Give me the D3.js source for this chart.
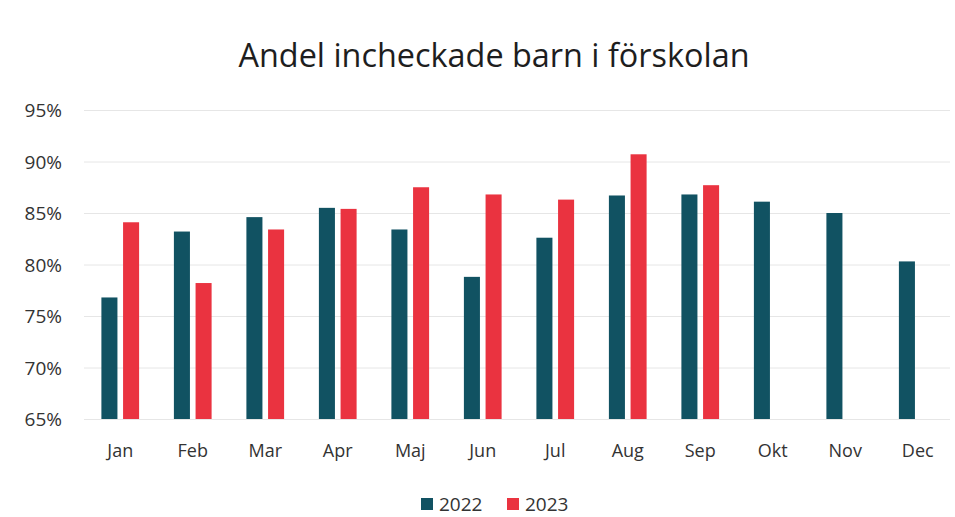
<!DOCTYPE html>
<html>
<head>
<meta charset="utf-8">
<script src="https://cdn.jsdelivr.net/npm/d3@7"></script>
<style>
  body { margin: 0; background: #fff; }
  svg { display: block; font-family: "Open Sans", sans-serif; }
</style>
</head>
<body>
<div id="chart"></div>
<script>
// chart data
const months = ["Jan", "Feb", "Mar", "Apr", "Maj", "Jun", "Jul", "Aug", "Sep", "Okt", "Nov", "Dec"];
const values2022 = [76.8, 83.2, 84.6, 85.5, 83.4, 78.8, 82.6, 86.7, 86.8, 86.1, 85.0, 80.3];
const values2023 = [84.1, 78.2, 83.4, 85.4, 87.5, 86.8, 86.3, 90.7, 87.7, null, null, null];
const yTicks = [65, 70, 75, 80, 85, 90, 95];
const seriesNames = ["2022", "2023"];
const colors = ["#115262", "#ea3340"];

const width = 955, height = 517;
const margin = {top: 110, right: 1, bottom: 98, left: 84};

const svg = d3.select("#chart").append("svg")
    .attr("width", width)
    .attr("height", height);

// title
svg.append("text")
    .attr("x", 494)
    .attr("y", 67)
    .attr("text-anchor", "middle")
    .style("font-size", "32.4px")
    .style("fill", "#1e1e1e")
    .text("Andel incheckade barn i förskolan");

const x = d3.scaleBand()
    .domain(months)
    .range([margin.left, width - margin.right])
    .paddingInner(0.48)
    .paddingOuter(0.24);

const xInner = d3.scaleBand()
    .domain(seriesNames)
    .range([0, x.bandwidth()])
    .paddingInner(0.26);

const y = d3.scaleLinear()
    .domain([65, 95])
    .range([height - margin.bottom, margin.top]);

// gridlines
svg.append("g")
    .selectAll("line")
    .data(yTicks)
    .enter().append("line")
    .attr("x1", margin.left)
    .attr("x2", width - 5)
    .attr("y1", d => y(d) + 0.5)
    .attr("y2", d => y(d) + 0.5)
    .style("stroke", "#e6e6e6")
    .style("stroke-width", 1);

// y labels
svg.append("g")
    .selectAll("text")
    .data(yTicks)
    .enter().append("text")
    .attr("x", 62)
    .attr("y", d => y(d) + 7)
    .attr("text-anchor", "end")
    .style("font-size", "19px")
    .style("fill", "#333")
    .text(d => d + "%");

// x labels
svg.append("g")
    .selectAll("text")
    .data(months)
    .enter().append("text")
    .attr("x", d => x(d) + x.bandwidth() / 2)
    .attr("y", 457)
    .attr("text-anchor", "middle")
    .style("font-size", "18px")
    .style("fill", "#333")
    .text(d => d);

// bars
const rows = [];
months.forEach((m, i) => {
    [values2022[i], values2023[i]].forEach((v, j) => {
        if (v != null) rows.push({month: m, series: seriesNames[j], value: v, color: colors[j]});
    });
});

svg.append("g")
    .selectAll("rect")
    .data(rows)
    .enter().append("rect")
    .attr("x", d => x(d.month) + xInner(d.series))
    .attr("y", d => y(d.value))
    .attr("width", xInner.bandwidth())
    .attr("height", d => y(65) - y(d.value))
    .style("fill", d => d.color);

// legend
const legend = svg.append("g")
    .selectAll("g")
    .data(seriesNames)
    .enter().append("g")
    .attr("transform", (d, i) => `translate(${421 + i * 86},498)`);

legend.append("rect")
    .attr("width", 12)
    .attr("height", 12)
    .style("fill", (d, i) => colors[i]);

legend.append("text")
    .attr("x", 18)
    .attr("y", 13)
    .style("font-size", "19px")
    .style("fill", "#333")
    .text(d => d);
</script>
</body>
</html>
